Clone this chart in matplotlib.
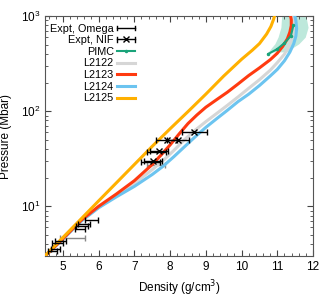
import numpy as np
import matplotlib.pyplot as plt
from matplotlib.lines import Line2D
from matplotlib.legend_handler import HandlerBase
from matplotlib.ticker import MultipleLocator, LogLocator, NullFormatter

plt.rcParams['font.family'] = ['Liberation Sans', 'DejaVu Sans']

# model curves (density g/cm3, pressure Mbar)
d_2122 = [4.5, 5.0, 5.5, 6.0, 6.5, 7.0, 7.5, 7.8, 8.1, 8.4, 8.7, 9.0, 9.3, 9.6, 9.9,
          10.2, 10.5, 10.8, 11.0, 11.2, 11.33, 11.42, 11.46, 11.46, 11.44]
p_2122 = [3.0, 4.52, 7.0, 9.77, 13.0, 17.4, 24.3, 30.2, 38.5, 50.1, 63.1, 77.6, 94.4, 115, 141,
          174, 214, 269, 324, 398, 490, 603, 741, 891, 1000]
d_2123 = [4.5, 5.0, 5.5, 6.0, 6.5, 7.0, 7.5, 7.75, 8.0, 8.25, 8.5, 8.75, 9.0, 9.3, 9.6, 9.9,
          10.2, 10.5, 10.8, 11.0, 11.15, 11.28, 11.35, 11.39, 11.39, 11.37]
p_2123 = [3.0, 4.57, 7.08, 10.0, 13.5, 18.6, 27.5, 34.7, 44.2, 57.5, 74.1, 91.2, 110, 132, 158, 193,
          237, 285, 347, 407, 479, 575, 676, 794, 912, 1000]
d_2124 = [4.5, 5.0, 5.5, 6.0, 6.5, 7.0, 7.5, 7.8, 8.1, 8.4, 8.7, 9.0, 9.3, 9.6, 9.9, 10.2,
          10.5, 10.8, 11.0, 11.2, 11.35, 11.46, 11.52, 11.54, 11.52, 11.49]
p_2124 = [3.0, 4.52, 6.92, 9.66, 12.6, 16.2, 21.6, 26.3, 33.1, 42.2, 53.7, 67.6, 83.2, 102, 126, 151,
          186, 234, 275, 339, 417, 513, 617, 741, 891, 1000]
d_2125 = [4.5, 5.0, 5.5, 6.0, 6.5, 7.0, 7.5, 8.0, 8.5, 9.0, 9.5, 10.0, 10.3, 10.5, 10.7,
          10.82, 10.9, 10.92]
p_2125 = [3.02, 4.70, 7.31, 11.4, 17.7, 27.5, 42.7, 65.3, 98.9, 151, 234, 351, 437, 513, 646,
          776, 933, 1000]

# PIMC and its uncertainty band
d_pimc = [10.75, 11.0, 11.2, 11.38, 11.45]
p_pimc = [400, 450, 520, 620, 800]
p_band = [420, 470, 510, 600, 760, 1000]
d_band_lo = [10.75, 10.85, 10.93, 11.02, 11.1, 11.12]
d_band_hi = [11.3, 11.45, 11.6, 11.78, 11.86, 11.8]

# experiments
d_omega = [4.72, 4.80, 4.86, 4.93, 5.48, 5.53, 5.60, 5.81, 7.45, 7.62]
p_omega = [3.4, 3.6, 4.1, 4.3, 5.8, 6.2, 6.6, 7.2, 29, 37]
e_omega = [0.13, 0.12, 0.15, 0.15, 0.15, 0.17, 0.17, 0.18, 0.27, 0.27]
d_omega_g = [5.27, 7.6]
p_omega_g = [4.6, 27]
e_omega_g = [0.35, 0.25]
d_nif = [7.52, 7.70, 7.90, 8.22, 8.68]
p_nif = [30, 38, 50, 50, 61]
e_nif = [0.25, 0.25, 0.3, 0.3, 0.35]


class HandlerXErr(HandlerBase):
    # horizontal error bar with caps, optional marker in the middle
    def __init__(self, marker=None):
        super().__init__()
        self.marker = marker

    def create_artists(self, legend, orig_handle, xdescent, ydescent, width, height,
                       fontsize, trans):
        x0, x1 = -xdescent, width - xdescent
        y = (height - ydescent) / 2
        c = height * 0.3
        arts = [Line2D([x0, x1], [y, y], color='black', lw=1),
                Line2D([x0, x0], [y - c, y + c], color='black', lw=1),
                Line2D([x1, x1], [y - c, y + c], color='black', lw=1)]
        if self.marker:
            arts.append(Line2D([(x0 + x1) / 2], [y], marker=self.marker, ms=4, mew=1,
                               color='black', ls='none'))
        for a in arts:
            a.set_transform(trans)
        return arts


fig = plt.figure(figsize=(3.32, 3.02), dpi=100)
ax = fig.add_axes([0.1355, 0.152, 0.8075, 0.795])

ax.fill_betweenx(p_band, d_band_lo, d_band_hi, color='#bde8db', lw=0, zorder=1)

ax.errorbar(d_omega_g, p_omega_g, xerr=e_omega_g, fmt='none', ecolor='#888888',
            elinewidth=1, capsize=2, zorder=2)
ax.plot(d_2122, p_2122, color='#d6d6d6', lw=2.2, zorder=3)
ax.plot(d_2124, p_2124, color='#6cc4f0', lw=2.2, zorder=3)
ax.plot(d_2123, p_2123, color='#ff3a10', lw=2.2, zorder=4)
ax.plot(d_2125, p_2125, color='#ffb000', lw=2.2, zorder=4)
ax.plot(d_pimc, p_pimc, color='#1aa37a', lw=1.5, marker='o', ms=1.5, zorder=5)

ax.errorbar(d_omega, p_omega, xerr=e_omega, fmt='none', ecolor='black',
            elinewidth=1, capsize=2, zorder=6)
ax.errorbar(d_nif, p_nif, xerr=e_nif, fmt='x', color='black', ms=4, mew=1,
            elinewidth=1, capsize=2, zorder=6)

# legend handles
h_om = Line2D([], [])
h_nif = Line2D([], [])
h_pimc = Line2D([], [], color='#1aa37a', lw=1.5, marker='o', ms=1.5)
h22 = Line2D([], [], color='#d6d6d6', lw=2.2)
h23 = Line2D([], [], color='#ff3a10', lw=2.2)
h24 = Line2D([], [], color='#6cc4f0', lw=2.2)
h25 = Line2D([], [], color='#ffb000', lw=2.2)
ax.legend([h_om, h_nif, h_pimc, h22, h23, h24, h25],
          ['Expt, Omega', 'Expt, NIF', 'PIMC', 'L2122', 'L2123', 'L2124', 'L2125'],
          handler_map={h_om: HandlerXErr(), h_nif: HandlerXErr('x')},
          loc='upper left', bbox_to_anchor=(-0.01, 1.0), frameon=False, markerfirst=False,
          fontsize=7.8, handlelength=1.65, handletextpad=0.35, labelspacing=0.15,
          borderaxespad=0.3)

ax.set_yscale('log')
ax.set_xlim(4.5, 12)
ax.set_ylim(3, 1000)
ax.xaxis.set_major_locator(MultipleLocator(1))
ax.xaxis.set_minor_locator(MultipleLocator(0.2))
ax.yaxis.set_minor_locator(LogLocator(base=10, subs=np.arange(2, 10)))
ax.yaxis.set_minor_formatter(NullFormatter())
ax.tick_params(which='both', direction='in', top=True, right=True, labelsize=8.5,
               color='#444444')
ax.tick_params(which='major', length=4)
ax.tick_params(which='minor', length=2)
for s in ax.spines.values():
    s.set_color('#555555')

ax.set_xlabel('Density (g/cm$^3$)', fontsize=8.5, labelpad=4)
ax.set_ylabel('Pressure (Mbar)', fontsize=8.5, labelpad=6)

fig.savefig('out.png', dpi=100)
